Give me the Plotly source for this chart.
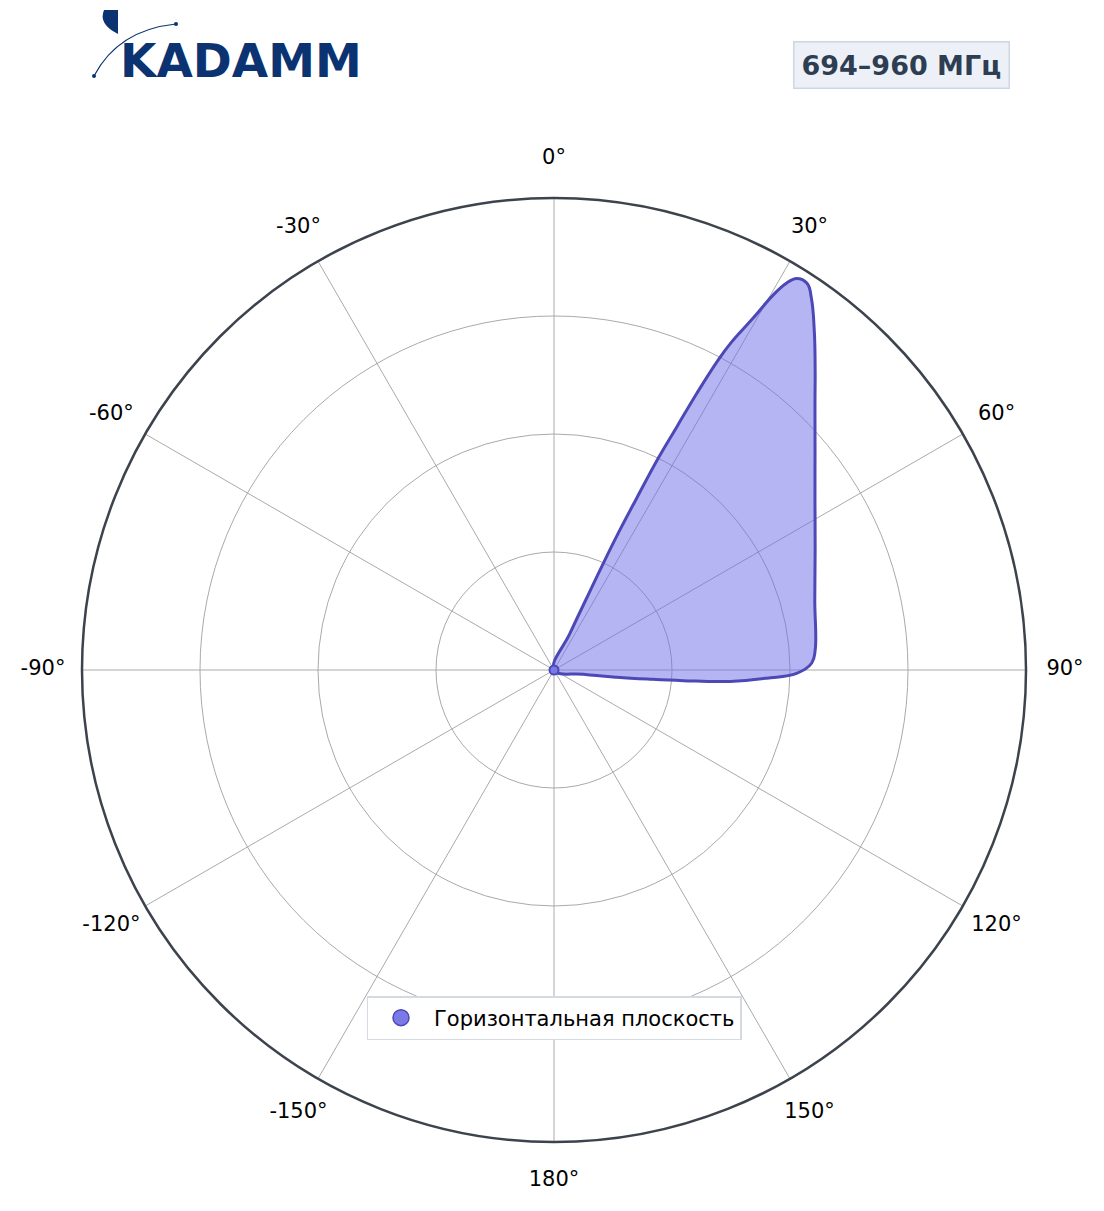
import plotly.graph_objects as go

# Horizontal-plane pattern (angle in degrees, relative level 0..1)
theta_deg = [22, 23.6, 24.4, 24.8, 25.2, 25.7, 26.2, 26.8, 27.3, 27.9, 28.4, 29.5, 30.3, 31.0,
             31.8, 33.2, 34.7, 37.6, 41.2, 44.0, 49.9, 56.9, 65.3, 75.0, 85.6, 88.5, 90.8,
             92.2, 93.7, 94.7, 95.5, 96.6, 98.3, 100]
r_level = [0, 0.085, 0.164, 0.249, 0.328, 0.404, 0.500, 0.577, 0.660, 0.743, 0.788, 0.856, 0.920,
           0.956, 0.976, 0.979, 0.958, 0.904, 0.840, 0.796, 0.723, 0.660, 0.609, 0.572, 0.555,
           0.546, 0.514, 0.451, 0.374, 0.275, 0.204, 0.134, 0.063, 0]

tick_vals = [0, 30, 60, 90, 120, 150, 180, 210, 240, 270, 300, 330]
tick_text = ["0°", "30°", "60°", "90°", "120°", "150°", "180°", "-150°", "-120°", "-90°", "-60°", "-30°"]
ring_vals = [0.25, 0.5, 0.75, 1.0]
legend_name = "Горизонтальная плоскость"
band_label = "694–960 МГц"
logo_text = "KADAMM"

LINE = "#4c48b6"
FILL = "rgba(108,108,232,0.5)"
LOGO = "#0b3372"

# plot area (page px in reference frame): square of 1022 px centred on the pole
AREA = 1022.0
A_LEFT, A_TOP = 43.0, 159.0
INNER = (AREA - 944.0) / 2 / AREA  # main chart circle sits inside the label ring

fig = go.Figure()
fig.add_trace(go.Scatterpolar(
    r=r_level, theta=theta_deg, mode="lines", fill="toself",
    fillcolor=FILL, line=dict(color=LINE, width=3, shape="spline", smoothing=1.2),
    showlegend=False, hoverinfo="skip", subplot="polar"))
fig.add_trace(go.Scatterpolar(
    r=[r_level[0]], theta=[theta_deg[0]], mode="markers",
    marker=dict(size=9, color="#7b78e8", line=dict(color=LINE, width=2)),
    showlegend=False, hoverinfo="skip", subplot="polar"))
fig.add_trace(go.Scatterpolar(
    r=[None], theta=[None], mode="markers",
    marker=dict(size=20, color="#7b78e8", line=dict(color=LINE, width=1.5)),
    name=legend_name, showlegend=True, subplot="polar"))
# angle labels, placed on an outer (invisible) polar frame
fig.add_trace(go.Scatterpolar(
    r=[1.0] * len(tick_vals), theta=tick_vals, text=tick_text, mode="text",
    textposition="middle center", textfont=dict(size=21, color="black"),
    cliponaxis=False, showlegend=False, hoverinfo="skip", subplot="polar2"))

fig.update_layout(
    width=1096, height=1203,
    margin=dict(l=A_LEFT - 8, t=A_TOP - 8,
                r=1096 - (A_LEFT - 8) - AREA, b=1203 - (A_TOP - 8) - AREA),
    paper_bgcolor="white",
    font=dict(family="DejaVu Sans", size=21, color="black"),
    polar=dict(
        domain=dict(x=[INNER, 1 - INNER], y=[INNER, 1 - INNER]),
        bgcolor="white",
        radialaxis=dict(range=[0, 1], tickvals=ring_vals, showticklabels=False,
                        ticks="", showline=False, gridcolor="#aaaaaa", gridwidth=1.3),
        angularaxis=dict(rotation=90, direction="clockwise", tickmode="array",
                         tickvals=tick_vals, showticklabels=False, ticks="",
                         gridcolor="#aaaaaa", gridwidth=1.3,
                         linecolor="#3d434d", linewidth=2.5),
    ),
    polar2=dict(
        domain=dict(x=[0, 1], y=[0, 1]),
        bgcolor="rgba(0,0,0,0)",
        radialaxis=dict(range=[0, 1], visible=False),
        angularaxis=dict(rotation=90, direction="clockwise", visible=False),
    ),
    legend=dict(x=0.5, xanchor="center", y=1 - (996 - A_TOP) / AREA, yanchor="top",
                bgcolor="white", bordercolor="#d5d9e2", borderwidth=1.5,
                itemwidth=56,
                font=dict(size=21, color="black")),
    showlegend=True,
)

def px(x):
    return (x - A_LEFT) / AREA

def py(y):
    return 1 + (A_TOP - y) / AREA

# band label box
fig.add_annotation(xref="paper", yref="paper", x=px(1010), y=py(65),
                   xanchor="right", yanchor="middle", showarrow=False,
                   text=f"<b>{band_label}</b>",
                   font=dict(size=27, color="#2e3e52", family="DejaVu Sans"),
                   bgcolor="#edf1f7", bordercolor="#cdd6e2", borderwidth=1.5,
                   borderpad=7)

# logo
fig.add_annotation(xref="paper", yref="paper", x=px(118), y=py(60),
                   xanchor="left", yanchor="middle", showarrow=False,
                   text=f"<b>{logo_text}</b>",
                   font=dict(size=47, color=LOGO, family="DejaVu Sans"))
fig.add_shape(type="path", xref="paper", yref="paper",
              path="M %f,%f Q %f,%f %f,%f" % (px(94), py(76), px(118), py(30), px(176), py(24)),
              line=dict(color=LOGO, width=1.2))
for cx, cy in [(94, 76), (176, 24)]:
    fig.add_shape(type="circle", xref="paper", yref="paper",
                  x0=px(cx - 2), x1=px(cx + 2), y0=py(cy + 2), y1=py(cy - 2),
                  fillcolor=LOGO, line=dict(width=0))
fig.add_shape(type="path", xref="paper", yref="paper",
              path="M %f,%f L %f,%f Q %f,%f %f,%f Z" % (
                  px(118), py(10), px(118), py(34), px(98), py(24), px(104), py(10)),
              fillcolor=LOGO, line=dict(width=0))

fig.write_html("out.html")
